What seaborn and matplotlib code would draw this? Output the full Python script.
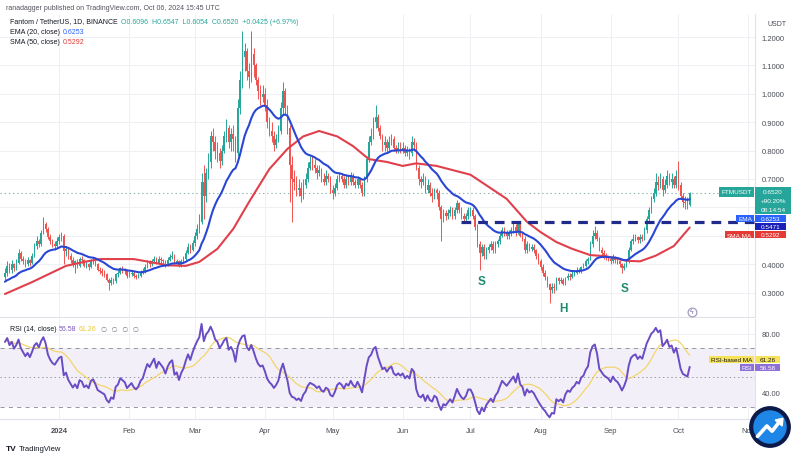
import numpy as np
import pandas as pd
import matplotlib
matplotlib.use("Agg")
import matplotlib.pyplot as plt
import matplotlib.dates as mdates
from matplotlib.patches import Circle, Rectangle
import seaborn as sns

# ---------------- data (daily FTM/USDT) ----------------
start_date = "2023-12-08"
first_open = 0.355

closes = [
    # Dec 8-31
    0.370, 0.395, 0.380, 0.400, 0.385, 0.405, 0.440, 0.420, 0.410, 0.400, 0.415, 0.405,
    0.430, 0.465, 0.480, 0.470, 0.510, 0.540, 0.525, 0.495, 0.480, 0.470, 0.465, 0.480,
    # Jan
    0.495, 0.500, 0.445, 0.455, 0.430, 0.415, 0.400, 0.410, 0.395, 0.420, 0.415, 0.395,
    0.400, 0.390, 0.410, 0.415, 0.400, 0.380, 0.375, 0.370, 0.365, 0.345, 0.335, 0.345,
    0.340, 0.365, 0.370, 0.385, 0.380, 0.375, 0.360,
    # Feb
    0.365, 0.370, 0.360, 0.355, 0.360, 0.370, 0.375, 0.390, 0.405, 0.400, 0.410, 0.420,
    0.405, 0.420, 0.415, 0.410, 0.400, 0.415, 0.425, 0.430, 0.405, 0.410, 0.395, 0.410,
    0.420, 0.440, 0.460, 0.450, 0.475,
    # Mar
    0.500, 0.525, 0.550, 0.690, 0.640, 0.720, 0.760, 0.850, 0.830, 0.800, 0.790, 0.765,
    0.800, 0.850, 0.880, 0.830, 0.860, 0.840, 0.790, 0.950, 1.050, 1.130, 1.150, 1.080,
    1.060, 1.140, 1.100, 1.050, 1.010, 0.990, 1.000,
    # Apr
    0.960, 0.900, 0.870, 0.850, 0.820, 0.840, 0.870, 0.950, 1.010, 0.950, 0.880, 0.750,
    0.700, 0.690, 0.660, 0.670, 0.640, 0.680, 0.700, 0.740, 0.760, 0.750, 0.740, 0.720,
    0.730, 0.700, 0.690, 0.710, 0.700, 0.660,
    # May
    0.650, 0.670, 0.700, 0.710, 0.700, 0.680, 0.700, 0.690, 0.710, 0.690, 0.680, 0.700,
    0.680, 0.650, 0.700, 0.770, 0.830, 0.850, 0.900, 0.920, 0.880, 0.850, 0.820, 0.830,
    0.810, 0.830, 0.840, 0.810, 0.800, 0.810, 0.800,
    # Jun
    0.810, 0.790, 0.800, 0.790, 0.830, 0.820, 0.740, 0.700, 0.690, 0.700, 0.660, 0.680,
    0.650, 0.640, 0.660, 0.650, 0.600, 0.560, 0.580, 0.570, 0.580, 0.590, 0.570, 0.590,
    0.615, 0.590, 0.570, 0.560, 0.570, 0.590,
    # Jul
    0.590, 0.570, 0.530, 0.470, 0.440, 0.460, 0.430, 0.450, 0.460, 0.470, 0.450, 0.470,
    0.480, 0.500, 0.520, 0.510, 0.500, 0.510, 0.520, 0.530, 0.510, 0.540, 0.500, 0.490,
    0.450, 0.470, 0.455, 0.460, 0.450, 0.430, 0.410,
    # Aug
    0.390, 0.370, 0.355, 0.330, 0.310, 0.320, 0.315, 0.350, 0.340, 0.345, 0.330, 0.350,
    0.360, 0.355, 0.365, 0.370, 0.380, 0.375, 0.390, 0.395, 0.410, 0.420, 0.470, 0.500,
    0.510, 0.490, 0.450, 0.440, 0.430, 0.425, 0.420,
    # Sep
    0.410, 0.425, 0.415, 0.410, 0.400, 0.385, 0.395, 0.410, 0.450, 0.480, 0.490, 0.495,
    0.485, 0.495, 0.490, 0.520, 0.560, 0.590, 0.630, 0.650, 0.690, 0.680, 0.700, 0.660,
    0.680, 0.710, 0.690, 0.700, 0.680, 0.710,
    # Oct 1-6
    0.680, 0.640, 0.620, 0.615, 0.6096, 0.6520,
]

highs = [
    0.385, 0.410, 0.405, 0.415, 0.405, 0.420, 0.455, 0.445, 0.430, 0.420, 0.425, 0.420,
    0.440, 0.475, 0.500, 0.490, 0.520, 0.565, 0.550, 0.530, 0.505, 0.490, 0.480, 0.495,
    0.505, 0.515, 0.505, 0.465, 0.460, 0.440, 0.425, 0.415, 0.420, 0.425, 0.430, 0.420,
    0.410, 0.405, 0.420, 0.425, 0.420, 0.405, 0.390, 0.385, 0.380, 0.370, 0.350, 0.355,
    0.350, 0.370, 0.380, 0.390, 0.395, 0.385, 0.380,
    0.375, 0.380, 0.375, 0.365, 0.370, 0.380, 0.385, 0.400, 0.415, 0.415, 0.420, 0.430,
    0.425, 0.430, 0.425, 0.420, 0.415, 0.425, 0.435, 0.445, 0.435, 0.420, 0.415, 0.420,
    0.430, 0.450, 0.475, 0.470, 0.485,
    0.515, 0.540, 0.575, 0.720, 0.750, 0.740, 0.790, 0.870, 0.880, 0.850, 0.830, 0.810,
    0.820, 0.870, 0.910, 0.890, 0.880, 0.890, 0.850, 0.980, 1.080, 1.220, 1.180, 1.160,
    1.110, 1.220, 1.160, 1.110, 1.060, 1.030, 1.030,
    1.020, 0.980, 0.920, 0.900, 0.870, 0.860, 0.890, 0.970, 1.040, 1.020, 0.960, 0.890,
    0.780, 0.730, 0.710, 0.700, 0.690, 0.700, 0.720, 0.760, 0.780, 0.780, 0.770, 0.750,
    0.750, 0.740, 0.720, 0.730, 0.720, 0.710,
    0.680, 0.685, 0.715, 0.725, 0.720, 0.710, 0.715, 0.710, 0.725, 0.720, 0.700, 0.710,
    0.705, 0.690, 0.710, 0.780, 0.850, 0.880, 0.920, 0.960, 0.930, 0.890, 0.860, 0.850,
    0.840, 0.850, 0.860, 0.850, 0.820, 0.830, 0.830,
    0.830, 0.820, 0.815, 0.810, 0.850, 0.845, 0.830, 0.750, 0.710, 0.720, 0.710, 0.700,
    0.690, 0.670, 0.670, 0.670, 0.660, 0.610, 0.595, 0.590, 0.595, 0.605, 0.600, 0.600,
    0.625, 0.620, 0.600, 0.580, 0.580, 0.600,
    0.600, 0.600, 0.575, 0.540, 0.480, 0.470, 0.470, 0.460, 0.470, 0.480, 0.480, 0.480,
    0.490, 0.510, 0.530, 0.530, 0.520, 0.520, 0.530, 0.545, 0.540, 0.550, 0.545, 0.510,
    0.500, 0.480, 0.475, 0.470, 0.470, 0.455, 0.440,
    0.420, 0.400, 0.380, 0.360, 0.335, 0.335, 0.335, 0.355, 0.355, 0.355, 0.350, 0.355,
    0.370, 0.370, 0.375, 0.380, 0.390, 0.385, 0.395, 0.405, 0.420, 0.425, 0.480, 0.520,
    0.535, 0.520, 0.495, 0.460, 0.450, 0.440, 0.430,
    0.425, 0.435, 0.430, 0.420, 0.415, 0.405, 0.405, 0.420, 0.460, 0.490, 0.505, 0.505,
    0.500, 0.505, 0.505, 0.530, 0.570, 0.600, 0.640, 0.670, 0.720, 0.710, 0.720, 0.710,
    0.700, 0.730, 0.720, 0.720, 0.710, 0.730,
    0.763, 0.690, 0.650, 0.640, 0.635, 0.6547,
]

lows = [
    0.345, 0.360, 0.370, 0.370, 0.375, 0.380, 0.400, 0.410, 0.400, 0.390, 0.395, 0.395,
    0.400, 0.425, 0.455, 0.460, 0.465, 0.505, 0.515, 0.490, 0.470, 0.460, 0.450, 0.460,
    0.470, 0.480, 0.400, 0.430, 0.420, 0.405, 0.390, 0.370, 0.385, 0.390, 0.405, 0.390,
    0.385, 0.380, 0.385, 0.400, 0.395, 0.375, 0.365, 0.360, 0.355, 0.340, 0.310, 0.325,
    0.330, 0.335, 0.355, 0.365, 0.370, 0.365, 0.350,
    0.355, 0.358, 0.352, 0.348, 0.350, 0.355, 0.365, 0.370, 0.385, 0.390, 0.395, 0.405,
    0.400, 0.400, 0.405, 0.400, 0.390, 0.395, 0.410, 0.420, 0.400, 0.400, 0.390, 0.390,
    0.405, 0.415, 0.435, 0.440, 0.445,
    0.465, 0.490, 0.510, 0.540, 0.560, 0.620, 0.700, 0.740, 0.800, 0.770, 0.760, 0.740,
    0.750, 0.790, 0.830, 0.810, 0.800, 0.800, 0.760, 0.780, 0.930, 1.020, 1.080, 1.050,
    1.020, 1.040, 1.060, 1.030, 0.980, 0.960, 0.970,
    0.940, 0.880, 0.850, 0.830, 0.800, 0.810, 0.830, 0.860, 0.930, 0.930, 0.860, 0.620,
    0.550, 0.660, 0.640, 0.640, 0.620, 0.630, 0.670, 0.690, 0.730, 0.730, 0.720, 0.700,
    0.710, 0.690, 0.680, 0.680, 0.690, 0.650,
    0.630, 0.640, 0.660, 0.690, 0.690, 0.670, 0.670, 0.680, 0.680, 0.680, 0.670, 0.670,
    0.670, 0.640, 0.640, 0.690, 0.760, 0.820, 0.840, 0.880, 0.870, 0.840, 0.800, 0.800,
    0.790, 0.800, 0.820, 0.800, 0.790, 0.790, 0.790,
    0.790, 0.780, 0.780, 0.770, 0.780, 0.800, 0.730, 0.680, 0.670, 0.680, 0.650, 0.650,
    0.640, 0.620, 0.630, 0.630, 0.590, 0.480, 0.550, 0.555, 0.560, 0.570, 0.560, 0.560,
    0.580, 0.580, 0.560, 0.550, 0.550, 0.560,
    0.570, 0.560, 0.520, 0.460, 0.380, 0.430, 0.420, 0.420, 0.440, 0.450, 0.440, 0.440,
    0.460, 0.470, 0.495, 0.500, 0.490, 0.490, 0.500, 0.510, 0.500, 0.505, 0.495, 0.480,
    0.440, 0.440, 0.445, 0.445, 0.440, 0.420, 0.400,
    0.380, 0.360, 0.345, 0.320, 0.265, 0.300, 0.300, 0.310, 0.330, 0.335, 0.325, 0.325,
    0.345, 0.345, 0.350, 0.360, 0.365, 0.370, 0.370, 0.385, 0.390, 0.400, 0.415, 0.460,
    0.490, 0.480, 0.445, 0.430, 0.420, 0.415, 0.410,
    0.400, 0.405, 0.405, 0.400, 0.390, 0.370, 0.380, 0.390, 0.405, 0.445, 0.470, 0.480,
    0.475, 0.475, 0.480, 0.485, 0.510, 0.550, 0.580, 0.620, 0.640, 0.660, 0.670, 0.640,
    0.650, 0.670, 0.680, 0.670, 0.670, 0.670,
    0.660, 0.630, 0.600, 0.595, 0.595, 0.6054,
]

ema_seed = 0.335          # EMA(20) value at the first visible bar
sma_dates = ["2023-12-08", "2023-12-20", "2024-01-04", "2024-01-12", "2024-01-19",
             "2024-02-03", "2024-02-10", "2024-02-18", "2024-02-26", "2024-03-03",
             "2024-03-11", "2024-03-18", "2024-03-25", "2024-04-03", "2024-04-11",
             "2024-04-18", "2024-04-25", "2024-05-03", "2024-05-10", "2024-05-17",
             "2024-05-25", "2024-06-01", "2024-06-07", "2024-06-16", "2024-07-01",
             "2024-07-17", "2024-07-26", "2024-08-01", "2024-08-08", "2024-08-15",
             "2024-08-23", "2024-08-30", "2024-09-08", "2024-09-14", "2024-09-21",
             "2024-09-29", "2024-10-06"]
sma_values = [0.295, 0.337, 0.394, 0.408, 0.418, 0.418, 0.408, 0.396, 0.394, 0.408,
              0.454, 0.524, 0.619, 0.735, 0.806, 0.850, 0.869, 0.850, 0.816, 0.770,
              0.760, 0.746, 0.755, 0.746, 0.715, 0.630, 0.549, 0.513, 0.478, 0.454,
              0.432, 0.428, 0.412, 0.410, 0.430, 0.464, 0.5292]

neckline = 0.5471
neckline_start = "2024-06-27"
rsi_seed_gain, rsi_seed_loss = 0.012, 0.0045

month_ticks = ["2024-01-01", "2024-02-01", "2024-03-01", "2024-04-01", "2024-05-01",
               "2024-06-01", "2024-07-01", "2024-08-01", "2024-09-01", "2024-10-01",
               "2024-11-01"]
month_labels = ["2024", "Feb", "Mar", "Apr", "May", "Jun", "Jul", "Aug", "Sep", "Oct", "Nov"]
price_ticks = [0.3, 0.4, 0.5, 0.6, 0.7, 0.8, 0.9, 1.0, 1.1, 1.2]
price_labels = ["0.3000", "0.4000", "", "", "0.7000", "0.8000", "0.9000", "1.0000",
                "1.1000", "1.2000"]
rsi_ticks = [40, 60, 80]
rsi_labels = ["40.00", "", "80.00"]

# ---------------- derived series ----------------
dates = pd.date_range(start_date, periods=len(closes), freq="D")
xnum = mdates.date2num(dates)
c = np.array(closes)
o = np.r_[first_open, c[:-1]]
h = np.array(highs)
l = np.array(lows)
ema = pd.Series([ema_seed] + closes).ewm(span=20, adjust=False).mean().iloc[1:].values
delta = c - o
ag, al = rsi_seed_gain, rsi_seed_loss
rsi = []
for d in delta:
    ag = (ag * 13 + max(d, 0)) / 14
    al = (al * 13 + max(-d, 0)) / 14
    rsi.append(100 - 100 / (1 + ag / al))
rsi = np.array(rsi)
rsi_ma = pd.Series(rsi).rolling(14, min_periods=1).mean().values

# ---------------- style ----------------
sns.set_style("white")
plt.rcParams["font.family"] = ["Liberation Sans", "DejaVu Sans"]
plt.rcParams["lines.scale_dashes"] = False

UP, DOWN = "#26a69a", "#ef5350"
GRID = "#eef0f4"
TXT = "#4a4d57"
W, H = 800, 460
FS = 5.0

def fx(x):
    return x / W

def fy(y):
    return 1 - y / H

fig = plt.figure(figsize=(8, 4.6), dpi=100)
ax = fig.add_axes([0, fy(318), fx(755), (318 - 15) / H])
axr = fig.add_axes([0, fy(420), fx(755), (420 - 320) / H], sharex=ax)

x_left = xnum[0] - 2.2
x_right = xnum[0] + 331.9

# ---------------- price panel ----------------
cols = np.where(c >= o, UP, DOWN)
ax.vlines(xnum, l, h, colors=cols, linewidth=0.7, zorder=2)
body_b = np.minimum(o, c)
body_h = np.maximum(np.abs(c - o), 0.002)
ax.bar(xnum, body_h, bottom=body_b, width=0.66, color=cols, linewidth=0, zorder=3)

sns.lineplot(x=mdates.date2num(pd.to_datetime(sma_dates)), y=sma_values, ax=ax,
             color="#e0404c", linewidth=1.5, legend=False, zorder=4)
sns.lineplot(x=xnum, y=ema, ax=ax, color="#2a47d4", linewidth=1.5, legend=False, zorder=5)

ax.axhline(c[-1], color="#8fb7b0", linestyle=(0, (1, 2)), linewidth=0.8, zorder=1)
ax.plot([mdates.date2num(pd.Timestamp(neckline_start)), x_right], [neckline, neckline],
        color="#1f2a8a", linewidth=2.3, linestyle=(0, (7, 5)), zorder=6)

ax.set_xlim(x_left, x_right)
ax.set_ylim(0.214, 1.281)
ax.yaxis.tick_right()
ax.set_yticks(price_ticks)
ax.set_yticklabels(price_labels)
ax.tick_params(axis="y", length=0, pad=5, labelsize=5.5, labelcolor=TXT)
ax.tick_params(axis="x", length=0, labelbottom=False)
ax.set_xticks(mdates.date2num(pd.to_datetime(month_ticks)))
ax.grid(True, color=GRID, linewidth=0.8)
for s in ["top", "left"]:
    ax.spines[s].set_visible(False)
for s in ["right", "bottom"]:
    ax.spines[s].set_color("#dfe2e8")
    ax.spines[s].set_linewidth(0.8)

pattern_col = "#1f8a70"
ax.text(mdates.date2num(pd.Timestamp("2024-07-06")), 0.341, "S", color=pattern_col,
        fontsize=8.5, fontweight="bold", ha="center", va="center")
ax.text(mdates.date2num(pd.Timestamp("2024-08-11")), 0.246, "H", color=pattern_col,
        fontsize=8.5, fontweight="bold", ha="center", va="center")
ax.text(mdates.date2num(pd.Timestamp("2024-09-07")), 0.316, "S", color=pattern_col,
        fontsize=8.5, fontweight="bold", ha="center", va="center")
ax.scatter([mdates.date2num(pd.Timestamp("2024-10-07"))], [0.232], s=40,
           facecolor="white", edgecolor="#a39bc2", linewidth=0.9, zorder=6)
ax.text(mdates.date2num(pd.Timestamp("2024-10-07")), 0.232, "ϟ", color="#7e6fb0",
        fontsize=5, ha="center", va="center", zorder=7)

# ---------------- RSI panel ----------------
axr.axhspan(30, 70, color="#7e57c2", alpha=0.09, linewidth=0, zorder=0)
for lev, ls in [(70, (0, (3, 3))), (50, (0, (1, 2))), (30, (0, (3, 3)))]:
    axr.axhline(lev, color="#9598a1", linestyle=ls, linewidth=0.7, zorder=1)
sns.lineplot(x=xnum, y=rsi_ma, ax=axr, color="#f3d56b", linewidth=0.9, legend=False,
             zorder=2)
sns.lineplot(x=xnum, y=rsi, ax=axr, color="#6a4cc4", linewidth=1.4, legend=False, zorder=3)
axr.set_xlim(x_left, x_right)
axr.set_ylim(21.4, 90.3)
axr.yaxis.tick_right()
axr.set_yticks(rsi_ticks)
axr.set_yticklabels(rsi_labels)
axr.tick_params(axis="y", length=0, pad=5, labelsize=5.5, labelcolor=TXT)
axr.set_xticks(mdates.date2num(pd.to_datetime(month_ticks)))
axr.set_xticklabels(month_labels)
axr.tick_params(axis="x", length=0, pad=6, labelsize=5.5, labelcolor=TXT)
axr.get_xticklabels()[0].set_fontweight("bold")
axr.grid(True, color=GRID, linewidth=0.8)
for s in ["top", "left"]:
    axr.spines[s].set_visible(False)
for s in ["right", "bottom"]:
    axr.spines[s].set_color("#dfe2e8")
    axr.spines[s].set_linewidth(0.8)

# ---------------- header texts ----------------
fig.text(fx(6), fy(8), "ranadagger published on TradingView.com, Oct 06, 2024 15:45 UTC",
         fontsize=FS, color="#50535e", va="center")
fig.text(fx(10), fy(22), "Fantom / TetherUS, 1D, BINANCE", fontsize=FS, color="#131722",
         va="center")
fig.text(fx(121), fy(22), "O0.6096  H0.6547  L0.6054  C0.6520  +0.0425 (+6.97%)",
         fontsize=FS, color=UP, va="center")
fig.text(fx(10), fy(32), "EMA (20, close)", fontsize=FS, color="#131722", va="center")
fig.text(fx(63), fy(32), "0.6253", fontsize=FS, color="#2962ff", va="center")
fig.text(fx(10), fy(42), "SMA (50, close)", fontsize=FS, color="#131722", va="center")
fig.text(fx(63), fy(42), "0.5292", fontsize=FS, color="#e53935", va="center")
fig.text(fx(10), fy(330), "RSI (14, close)", fontsize=FS, color="#131722", va="center")
fig.text(fx(59), fy(330), "56.58", fontsize=FS, color="#7e57c2", va="center")
fig.text(fx(79), fy(330), "61.26", fontsize=FS, color="#e8c93a", va="center")
fig.text(fx(101), fy(330), "∅  ∅  ∅  ∅", fontsize=FS, color="#787b86", va="center",
         family=["DejaVu Sans"])
fig.text(fx(767), fy(25), "USDT", fontsize=FS, color=TXT, va="center")

# ---------------- axis tags ----------------
def tag(x0, x1, y0, y1, fc, lines, tc="white", fs=4.6):
    fig.add_artist(Rectangle((fx(x0), fy(y1)), fx(x1 - x0), (y1 - y0) / H,
                             transform=fig.transFigure, facecolor=fc, edgecolor="none",
                             zorder=10))
    n = len(lines)
    for k, t in enumerate(lines):
        yy = y0 + (y1 - y0) * (k + 0.5) / n
        fig.text(fx((x0 + x1) / 2), fy(yy), t, fontsize=fs, color=tc, ha="center",
                 va="center", zorder=11)

tag(719, 754, 188, 198, UP, ["FTMUSDT"])
tag(755, 791, 188, 215, UP, ["0.6520", "+90.20%", "08:14:54"])
tag(736, 754, 216, 223, "#2962ff", ["EMA"])
tag(755, 786, 216, 223, "#2962ff", ["0.6253"])
tag(755, 786, 224, 231, "#1a1fb8", ["0.5471"])
tag(725, 754, 232, 239, "#e53935", ["SMA,MA"])
tag(755, 786, 232, 239, "#e53935", ["0.5292"])
tag(709, 754, 357, 364, "#f7e35a", ["RSI-based MA"], tc="#131722")
tag(755, 780, 357, 364, "#f7e35a", ["61.26"], tc="#131722")
tag(740, 754, 365, 372, "#8e6fd6", ["RSI"])
tag(755, 780, 365, 372, "#8e6fd6", ["56.58"])

# ---------------- footer ----------------
fig.text(fx(6), fy(450), "TV", fontsize=6, fontweight="bold", color="#131722", va="center")
fig.text(fx(19), fy(450), "TradingView", fontsize=5.5, color="#131722", va="center")

lax = fig.add_axes([fx(747), fy(452), fx(46), 48 / H])
lax.set_xlim(-1.1, 1.1)
lax.set_ylim(-1.1, 1.1)
lax.set_aspect("equal")
lax.axis("off")
lax.add_patch(Circle((0, 0), 1.0, facecolor="#0c1a4a", edgecolor="none"))
lax.add_patch(Circle((0, 0), 0.8, facecolor="#1d86e6", edgecolor="none"))
lax.plot([-0.6, -0.15, 0.1, 0.45], [-0.45, 0.05, -0.2, 0.25], color="white",
         linewidth=2.6, solid_capstyle="round")
lax.fill([0.25, 0.62, 0.58], [0.33, 0.42, 0.05], color="white")

fig.savefig("out.png", dpi=100)
